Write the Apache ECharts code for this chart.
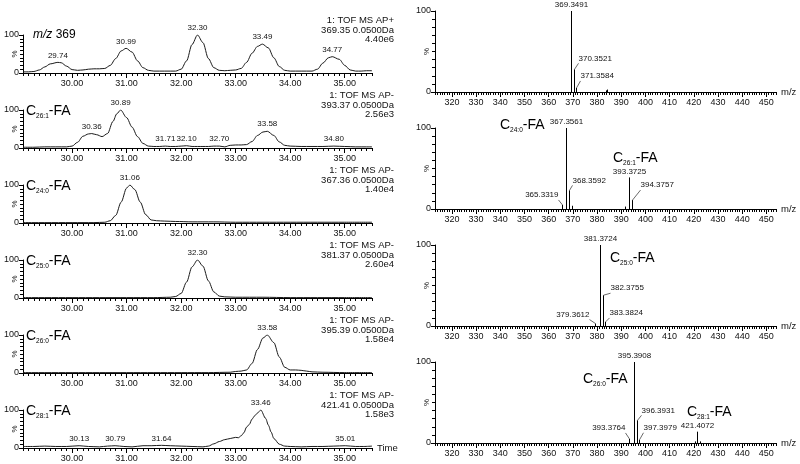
<!DOCTYPE html>
<html>
<head>
<meta charset="utf-8">
<script src="https://cdn.jsdelivr.net/npm/echarts@6.0.0/dist/echarts.min.js"></script>
<style>
  html, body { margin: 0; padding: 0; background: #fff; }
  #chart { width: 800px; height: 464px; }
</style>
</head>
<body>
<div id="chart"></div>
<script>
const FONT = 'Liberation Sans, Arial, sans-serif';

// ---- chromatograms (left column), time in min, intensity in % ----
const t1 = [29.1,29.2,29.3,29.4,29.5,29.6,29.74,29.8,29.9,30.0,30.1,30.2,30.3,30.4,30.5,30.6,30.7,30.8,30.9,30.99,31.1,31.2,31.3,31.4,31.5,31.7,31.9,32.0,32.1,32.2,32.3,32.4,32.5,32.6,32.7,32.8,32.9,33.0,33.1,33.2,33.3,33.4,33.49,33.6,33.7,33.8,33.9,34.0,34.2,34.4,34.5,34.6,34.7,34.77,34.9,35.0,35.1,35.2,35.3,35.4,35.5];
const v1 = [3,3,4,8,16,24,28,27,18,9,7,8,10,11,11,12,20,38,58,65,55,32,14,7,5,5,5,10,32,75,100,80,38,14,7,6,7,8,12,28,52,70,76,66,40,17,7,5,5,5,10,26,40,43,36,20,8,5,5,6,6];
const peaks1 = [29.74, 30.99, 32.30, 33.49, 34.77];

const t2 = [29.1,29.3,29.5,29.7,29.9,30.0,30.1,30.2,30.3,30.36,30.45,30.55,30.65,30.75,30.82,30.89,31.0,31.1,31.2,31.3,31.4,31.5,31.6,31.71,31.8,31.9,32.0,32.1,32.2,32.3,32.4,32.5,32.6,32.7,32.8,32.9,33.0,33.1,33.2,33.3,33.4,33.5,33.58,33.7,33.8,33.9,34.0,34.2,34.4,34.6,34.8,35.0,35.2,35.4,35.5];
const v2 = [2,2,3,3,3,5,15,31,37,38,35,30,38,70,90,100,80,55,30,12,5,4,4,5,4,4,5,6,4,4,4,4,5,5,3,7,8,8,9,17,33,42,44,33,16,7,5,4,4,4,5,4,3,3,3];
const peaks2 = [30.36, 30.89, 31.71, 32.10, 32.70, 33.58, 34.80];

const t3 = [29.1,29.5,30.0,30.4,30.6,30.7,30.8,30.9,31.0,31.06,31.15,31.25,31.35,31.45,31.55,31.7,31.9,32.2,32.6,33.0,33.5,34.0,34.5,35.0,35.5];
const v3 = [1,1,1,1,2,6,20,55,92,100,88,55,22,8,6,5,4,3,3,2,2,2,2,2,2];
const peaks3 = [31.06];

const t4 = [29.1,29.5,30.0,30.5,31.0,31.5,31.8,31.9,32.0,32.1,32.2,32.3,32.4,32.5,32.6,32.7,32.8,33.0,33.5,34.0,34.5,35.0,35.5];
const v4 = [1,1,1,1,1,1,2,4,12,42,82,100,84,45,16,5,3,2,2,1,1,1,1];
const peaks4 = [32.30];

const t5 = [29.1,29.5,30.0,30.5,31.0,31.5,32.0,32.5,32.9,33.0,33.1,33.2,33.3,33.4,33.5,33.58,33.7,33.8,33.9,34.0,34.1,34.2,34.3,34.4,34.6,35.0,35.5];
const v5 = [1,1,1,1,1,1,1,1,2,4,5,8,25,62,92,100,80,42,15,8,8,7,5,3,2,1,1];
const peaks5 = [33.58];

const t6 = [29.1,29.3,29.5,29.7,29.9,30.13,30.3,30.5,30.65,30.79,30.95,31.1,31.3,31.45,31.64,31.8,32.0,32.2,32.4,32.5,32.6,32.7,32.8,32.9,33.0,33.05,33.1,33.15,33.2,33.25,33.3,33.35,33.4,33.46,33.55,33.6,33.65,33.7,33.8,33.9,34.0,34.2,34.4,34.6,34.8,35.01,35.2,35.35,35.5];
const v6 = [4,4,5,4,4,6,4,3,5,6,4,3,6,6,7,6,5,4,3,5,11,17,22,25,28,27,32,40,55,62,76,85,92,100,78,60,42,25,10,5,4,3,4,4,5,6,4,4,5];
const peaks6 = [30.13, 30.79, 31.64, 33.46, 35.01];

const chromTimes = [t1, t2, t3, t4, t5, t6];
const chromValues = [v1, v2, v3, v4, v5, v6];
const chromPeaks = [peaks1, peaks2, peaks3, peaks4, peaks5, peaks6];
const chromSubs = [null, '26:1', '24:0', '25:0', '26:0', '28:1'];
const chromModes = ['AP+', 'AP-', 'AP-', 'AP-', 'AP-', 'AP-'];
const chromMass = ['369.35', '393.37', '367.36', '381.37', '395.39', '421.41'];
const chromMax = ['4.40e6', '2.56e3', '1.40e4', '2.60e4', '1.58e4', '1.58e3'];
const timeLabels = [30, 31, 32, 33, 34, 35];

// ---- mass spectra (right column), m/z and relative intensity % ----
const mz1 = [369.3491, 370.3521, 371.3584, 383.6, 384.2];
const int1 = [100, 28, 5, 2, 3];
const mz2 = [365.3319, 367.3561, 368.3592, 369.5, 391.5, 393.3725, 394.3757];
const int2 = [5, 100, 23, 4, 3, 39, 11];
const mz3 = [379.3612, 381.3724, 382.3755, 383.3824];
const int3 = [3, 100, 38, 5];
const mz4 = [393.3764, 395.3908, 396.3931, 397.3979, 420.4, 421.4072, 422.4];
const int4 = [5, 100, 28, 4, 2, 14, 2];
const mzLabels = [320, 330, 340, 350, 360, 370, 380, 390, 400, 410, 420, 430, 440, 450];

// which peaks get a label, and where it sits relative to the stick top (px)
const specMarks = [
  { '369.3491': 'top', '370.3521': [4, -7], '371.3584': [4, -8] },
  { '367.3561': 'top', '368.3592': [3, -6], '365.3319': [-4, -6], '393.3725': 'top', '394.3757': [8, -11] },
  { '381.3724': 'top', '382.3755': [7, -3], '383.3824': [4, -5], '379.3612': [-6, -5] },
  { '395.3908': 'top', '396.3931': [4, -6], '397.3979': [4, -8], '393.3764': [-4, -7], '421.4072': 'top' }
];
const specMz = [mz1, mz2, mz3, mz4];
const specInt = [int1, int2, int3, int4];
const specNames = [
  [],
  [['24:0', 500, 125], ['26:1', 613, 158]],
  [['25:0', 610, 258]],
  [['26:0', 583, 379], ['28:1', 687, 412]]
];

// layout
const leftTops = [35, 110, 185, 260, 335, 410];
const rightTops = [11, 128, 245, 362];

const axisColor = '#000';
const grids = [];
const xAxes = [];
const yAxes = [];
const series = [];
const graphics = [];

function isLabel(labels, v) {
  return labels.some(l => Math.abs(l - v) < 1e-6);
}

// main axis: short ticks every step, labels only at the listed values;
// overlay axis: longer ticks at the labelled values
function addXPair(gridIndex, min, max, step, labels, fmt, name) {
  xAxes.push({
    gridIndex, type: 'value', min, max, interval: step, position: 'bottom',
    name: name || '', nameLocation: 'end', nameGap: 5, nameMoveOverlap: false,
    nameTextStyle: { fontSize: 9.5, fontFamily: FONT, color: '#111' },
    axisLine: { show: true, lineStyle: { color: axisColor, width: 1 } },
    axisTick: { show: true, length: 3, lineStyle: { color: axisColor, width: 1 } },
    axisLabel: {
      show: true, showMinLabel: true, showMaxLabel: true,
      formatter: v => (isLabel(labels, v) ? fmt(v) : ''),
      fontSize: 9, fontFamily: FONT, color: '#111', margin: 6
    },
    splitLine: { show: false }
  });
  xAxes.push({
    gridIndex, type: 'value', min, max, position: 'bottom',
    axisLine: { show: false },
    axisTick: { show: true, customValues: labels, length: 5, lineStyle: { color: axisColor, width: 1 } },
    axisLabel: { show: false, customValues: labels },
    splitLine: { show: false }
  });
}

function addY(gridIndex, gap) {
  yAxes.push({
    gridIndex, type: 'value', min: 0, max: 100, interval: 100,
    name: '%', nameLocation: 'middle', nameGap: gap, nameRotate: 90, nameMoveOverlap: false,
    nameTextStyle: { fontSize: 8, fontFamily: FONT, color: '#111' },
    axisLine: { show: true, lineStyle: { color: axisColor, width: 1 } },
    axisTick: { show: true, length: 4, lineStyle: { color: axisColor, width: 1 } },
    minorTick: { show: true, splitNumber: 10, length: 3, lineStyle: { color: axisColor, width: 1 } },
    axisLabel: { show: true, fontSize: 9, fontFamily: FONT, color: '#111', margin: 4 },
    splitLine: { show: false },
    minorSplitLine: { show: false }
  });
}

const subRich = {
  c: { fontSize: 14, fontFamily: FONT, color: '#111', lineHeight: 17 },
  s: { fontSize: 6.5, fontFamily: FONT, color: '#111', lineHeight: 7, verticalAlign: 'bottom' },
  i: { fontSize: 12, fontFamily: FONT, color: '#111', fontStyle: 'italic', lineHeight: 16 },
  n: { fontSize: 12, fontFamily: FONT, color: '#111', lineHeight: 16 }
};

function nameText(sub, x, y) {
  return {
    type: 'text', x, y,
    style: { text: '{c|C}{s|' + sub + '}{c|-FA}', rich: subRich, textVerticalAlign: 'middle', verticalAlign: 'middle' }
  };
}

// left column
chromTimes.forEach((ts, i) => {
  grids.push({ left: 23, top: leftTops[i], width: 349, height: 38 });
  addXPair(i, 29.1, 35.5, 0.1, timeLabels, v => v.toFixed(2), i === 5 ? 'Time' : '');
  addY(i, 4);
  const peaks = chromPeaks[i];
  series.push({
    type: 'line', xAxisIndex: 2 * i, yAxisIndex: i,
    smooth: 0.3, smoothMonotone: 'x',
    symbol: 'circle', symbolSize: 0, showAllSymbol: true,
    lineStyle: { color: '#1a1a1a', width: 1 },
    itemStyle: { color: '#1a1a1a' },
    silent: true,
    data: ts.map((t, k) => {
      const item = { value: [t, chromValues[i][k]] };
      if (peaks.includes(t)) {
        item.label = {
          show: true, position: 'top', distance: 3,
          formatter: t.toFixed(2), fontSize: 8, fontFamily: FONT, color: '#111'
        };
      }
      return item;
    })
  });
  const top = leftTops[i];
  graphics.push({
    type: 'text', x: 394, y: top - 5,
    style: {
      text: '1: TOF MS ' + chromModes[i] + '\n' + chromMass[i] + ' 0.0500Da\n' + chromMax[i],
      fontSize: 9.5, fontFamily: FONT, fill: '#111', lineHeight: 9.8,
      textAlign: 'right', align: 'right', textVerticalAlign: 'middle', verticalAlign: 'middle'
    }
  });
  if (chromSubs[i]) {
    graphics.push(nameText(chromSubs[i], 26, top + 1));
  } else {
    graphics.push({
      type: 'text', x: 33, y: top,
      style: { text: '{i|m/z}{n| 369}', rich: subRich, textVerticalAlign: 'middle', verticalAlign: 'middle' }
    });
  }
});

// right column
specMz.forEach((mzs, j) => {
  const g = 6 + j;
  grids.push({ left: 435, top: rightTops[j], width: 341, height: 81 });
  addXPair(g, 313, 454, 1, mzLabels, v => String(Math.round(v)), 'm/z');
  addY(g, 4);
  const marks = specMarks[j];
  series.push({
    type: 'custom', xAxisIndex: 2 * g, yAxisIndex: g, silent: true, clip: false,
    data: mzs.map((m, k) => [m, specInt[j][k]]),
    renderItem(params, api) {
      const m = api.value(0);
      const h = api.value(1);
      const tp = api.coord([m, h]);
      const bs = api.coord([m, 0]);
      const x = Math.round(tp[0]) + 0.5;
      const kids = [{
        type: 'line', shape: { x1: x, y1: tp[1], x2: x, y2: bs[1] },
        style: { stroke: '#000', lineWidth: 1 }
      }];
      const pos = marks[m.toFixed(4)];
      const txtStyle = { text: m.toFixed(4), fontSize: 8, fontFamily: FONT, fill: '#111' };
      if (pos === 'top') {
        kids.push({
          type: 'text', x: x, y: tp[1] - 2,
          style: Object.assign({ textAlign: 'center', align: 'center', textVerticalAlign: 'bottom', verticalAlign: 'bottom' }, txtStyle)
        });
      } else if (pos) {
        const lx = x + pos[0];
        const ly = tp[1] + pos[1];
        const al = pos[0] >= 0 ? 'left' : 'right';
        kids.push({
          type: 'line', shape: { x1: x, y1: tp[1], x2: lx, y2: ly + 1 },
          style: { stroke: '#444', lineWidth: 0.8 }
        });
        kids.push({
          type: 'text', x: lx, y: ly,
          style: Object.assign({ textAlign: al, align: al, textVerticalAlign: 'bottom', verticalAlign: 'bottom' }, txtStyle)
        });
      }
      return { type: 'group', children: kids };
    }
  });
  specNames[j].forEach(n => graphics.push(nameText(n[0], n[1], n[2])));
});

const chart = echarts.init(document.getElementById('chart'), null, { renderer: 'canvas' });
chart.setOption({
  animation: false,
  backgroundColor: '#fff',
  textStyle: { fontFamily: FONT },
  grid: grids,
  xAxis: xAxes,
  yAxis: yAxes,
  series: series,
  graphic: graphics
});
</script>
</body>
</html>
